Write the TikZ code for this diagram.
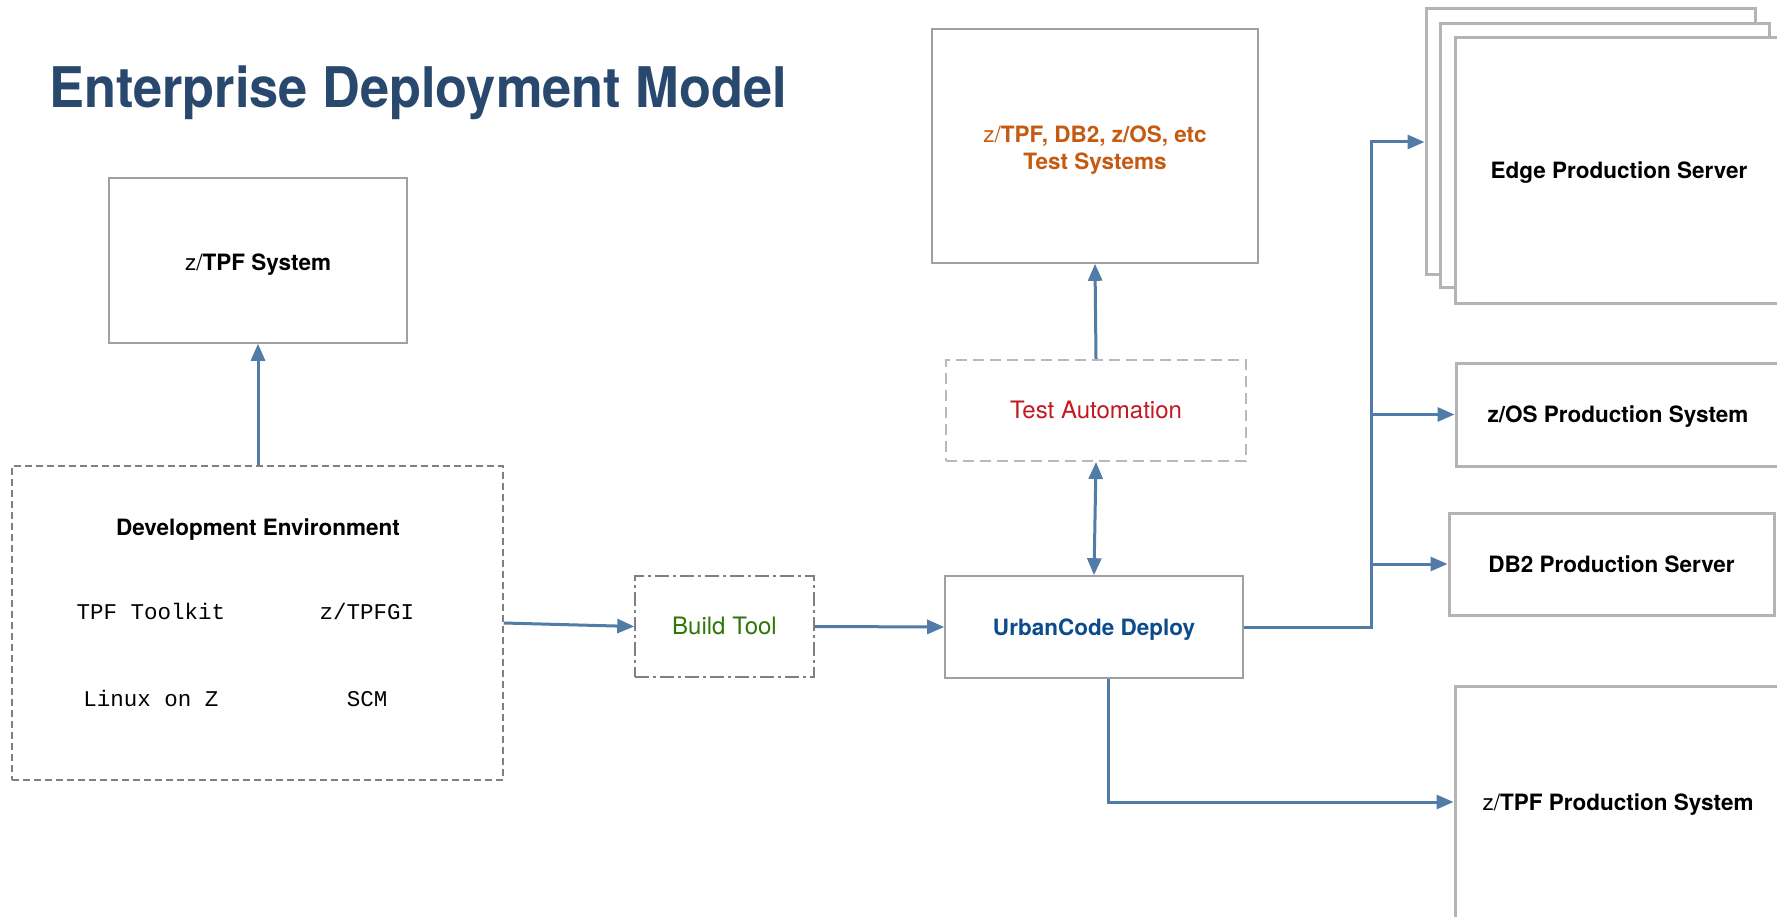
\documentclass[tikz,border=0pt]{standalone}
\usepackage{fontspec}
\setmainfont{TeX Gyre Heros}
\setmonofont{Liberation Mono}
\usetikzlibrary{arrows.meta}
\definecolor{connc}{RGB}{82,124,168}
\definecolor{titlec}{RGB}{40,72,110}
\definecolor{redc}{RGB}{196,24,32}
\definecolor{greenc}{RGB}{46,118,8}
\definecolor{bluec}{RGB}{12,76,140}
\definecolor{orangec}{RGB}{197,90,17}
\definecolor{boxgray}{RGB}{180,180,180}
\definecolor{thingray}{RGB}{160,160,160}
\definecolor{dashgray}{RGB}{128,128,128}
\definecolor{lightdash}{RGB}{185,185,185}
\tikzset{
  txt/.style={font=\fontsize{22.5}{27}\selectfont},
  btxt/.style={font=\bfseries\fontsize{22.5}{27}\selectfont},
  ltxt/.style={font=\fontsize{24}{28}\selectfont},
  capc/.style={text height=16pt, text depth=0pt},
  mono/.style={font=\ttfamily\fontsize{22.5}{27}\selectfont, inner sep=0pt, capc},
  box/.style={draw, rectangle, inner sep=0pt, align=center, txt, capc},
  thinbox/.style={box, draw=thingray, line width=1.6pt},
  prodbox/.style={box, draw=boxgray, line width=3pt, fill=white},
  devbox/.style={box, draw=dashgray, line width=1.5pt, dash pattern=on 7pt off 4pt},
  autobox/.style={box, draw=lightdash, line width=2pt, dash pattern=on 11pt off 6pt},
  buildbox/.style={box, draw=dashgray, line width=1.5pt, dash pattern=on 14pt off 4pt on 3pt off 4pt},
  arr/.style={draw=connc, line width=3pt, -{Triangle[length=17pt,width=14pt]}},
  darr/.style={draw=connc, line width=3pt, {Triangle[length=17pt,width=14pt]}-{Triangle[length=17pt,width=14pt]}}
}
\begin{document}
\begin{tikzpicture}[x=1pt,y=-1pt]
\path[use as bounding box] (0,0) rectangle (1777,917);
\clip (0,0) rectangle (1777,917);
\fill[white] (0,0) rectangle (1777,917);

% title
\node[anchor=base west, inner sep=0pt, text=titlec, font=\bfseries\fontsize{56}{62}\selectfont] (title) at (49,108) {\scalebox{0.935}[1]{Enterprise Deployment Model}};

% left side
\node[thinbox, minimum width=298pt, minimum height=165pt] (zsys) at (258,260.5) {};
\node[txt, capc, inner sep=0pt] (zsyst) at (258,263) {z/\textbf{TPF System}};
\node[devbox, minimum width=491pt, minimum height=314pt] (dev) at (257.5,623) {};
\node[btxt, capc, inner sep=0pt] (devt) at (258,527) {Development Environment};
\node[mono] (tk) at (151,611) {TPF Toolkit};
\node[mono] (gi) at (367,611) {z/TPFGI};
\node[mono] (lz) at (151,698) {Linux on Z};
\node[mono] (scm) at (367,698) {SCM};

% middle
\node[buildbox, minimum width=179pt, minimum height=101pt, text=greenc, ltxt] (build) at (724.5,626.5) {Build Tool};
\node[thinbox, minimum width=298pt, minimum height=102pt, text=bluec, btxt] (ucd) at (1094,627) {UrbanCode Deploy};
\node[autobox, minimum width=300pt, minimum height=101pt, text=redc, ltxt] (auto) at (1096,410.5) {Test Automation};
\node[thinbox, minimum width=326pt, minimum height=234pt] (tsys) at (1095,146) {};
\node[txt, capc, inner sep=0pt, text=orangec] (tsys1) at (1095,135) {z/\textbf{TPF, DB2, z/OS, etc}};
\node[btxt, capc, inner sep=0pt, text=orangec] (tsys2) at (1095,162) {Test Systems};

% right side
\node[prodbox, minimum width=329pt, minimum height=266pt] (edge3) at (1590.5,142) {};
\node[prodbox, minimum width=329pt, minimum height=264pt] (edge2) at (1604.5,156) {};
\node[prodbox, minimum width=328pt, minimum height=265pt, btxt] (edge1) at (1619,170.5) {Edge Production Server};
\node[prodbox, minimum width=324pt, minimum height=103pt, btxt] (zos) at (1618,414.5) {z/OS Production System};
\node[prodbox, minimum width=325pt, minimum height=102pt, btxt] (db2) at (1611.5,564) {DB2 Production Server};
\node[prodbox, minimum width=326pt, minimum height=232pt] (ztpf) at (1618,802) {z/\textbf{TPF Production System}};

% connectors
\coordinate (trunk) at (1371,0);
\draw[arr] (dev.north -| zsys.south) -- (zsys.south);
\draw[arr] (dev.east) -- (build.west);
\draw[arr] (build.east) -- (ucd.west);
\draw[darr] (ucd.north) -- (auto.south);
\draw[arr] (auto.north) -- (tsys.south);
\draw[arr] (ucd.east) -| (trunk |- edge3.west) -- (edge3.west);
\draw[arr] (trunk |- zos.west) -- (zos.west);
\draw[arr] (trunk |- db2.west) -- (db2.west);
\draw[arr] ([xshift=14pt]ucd.south) |- (ztpf.west);
\end{tikzpicture}
\end{document}
